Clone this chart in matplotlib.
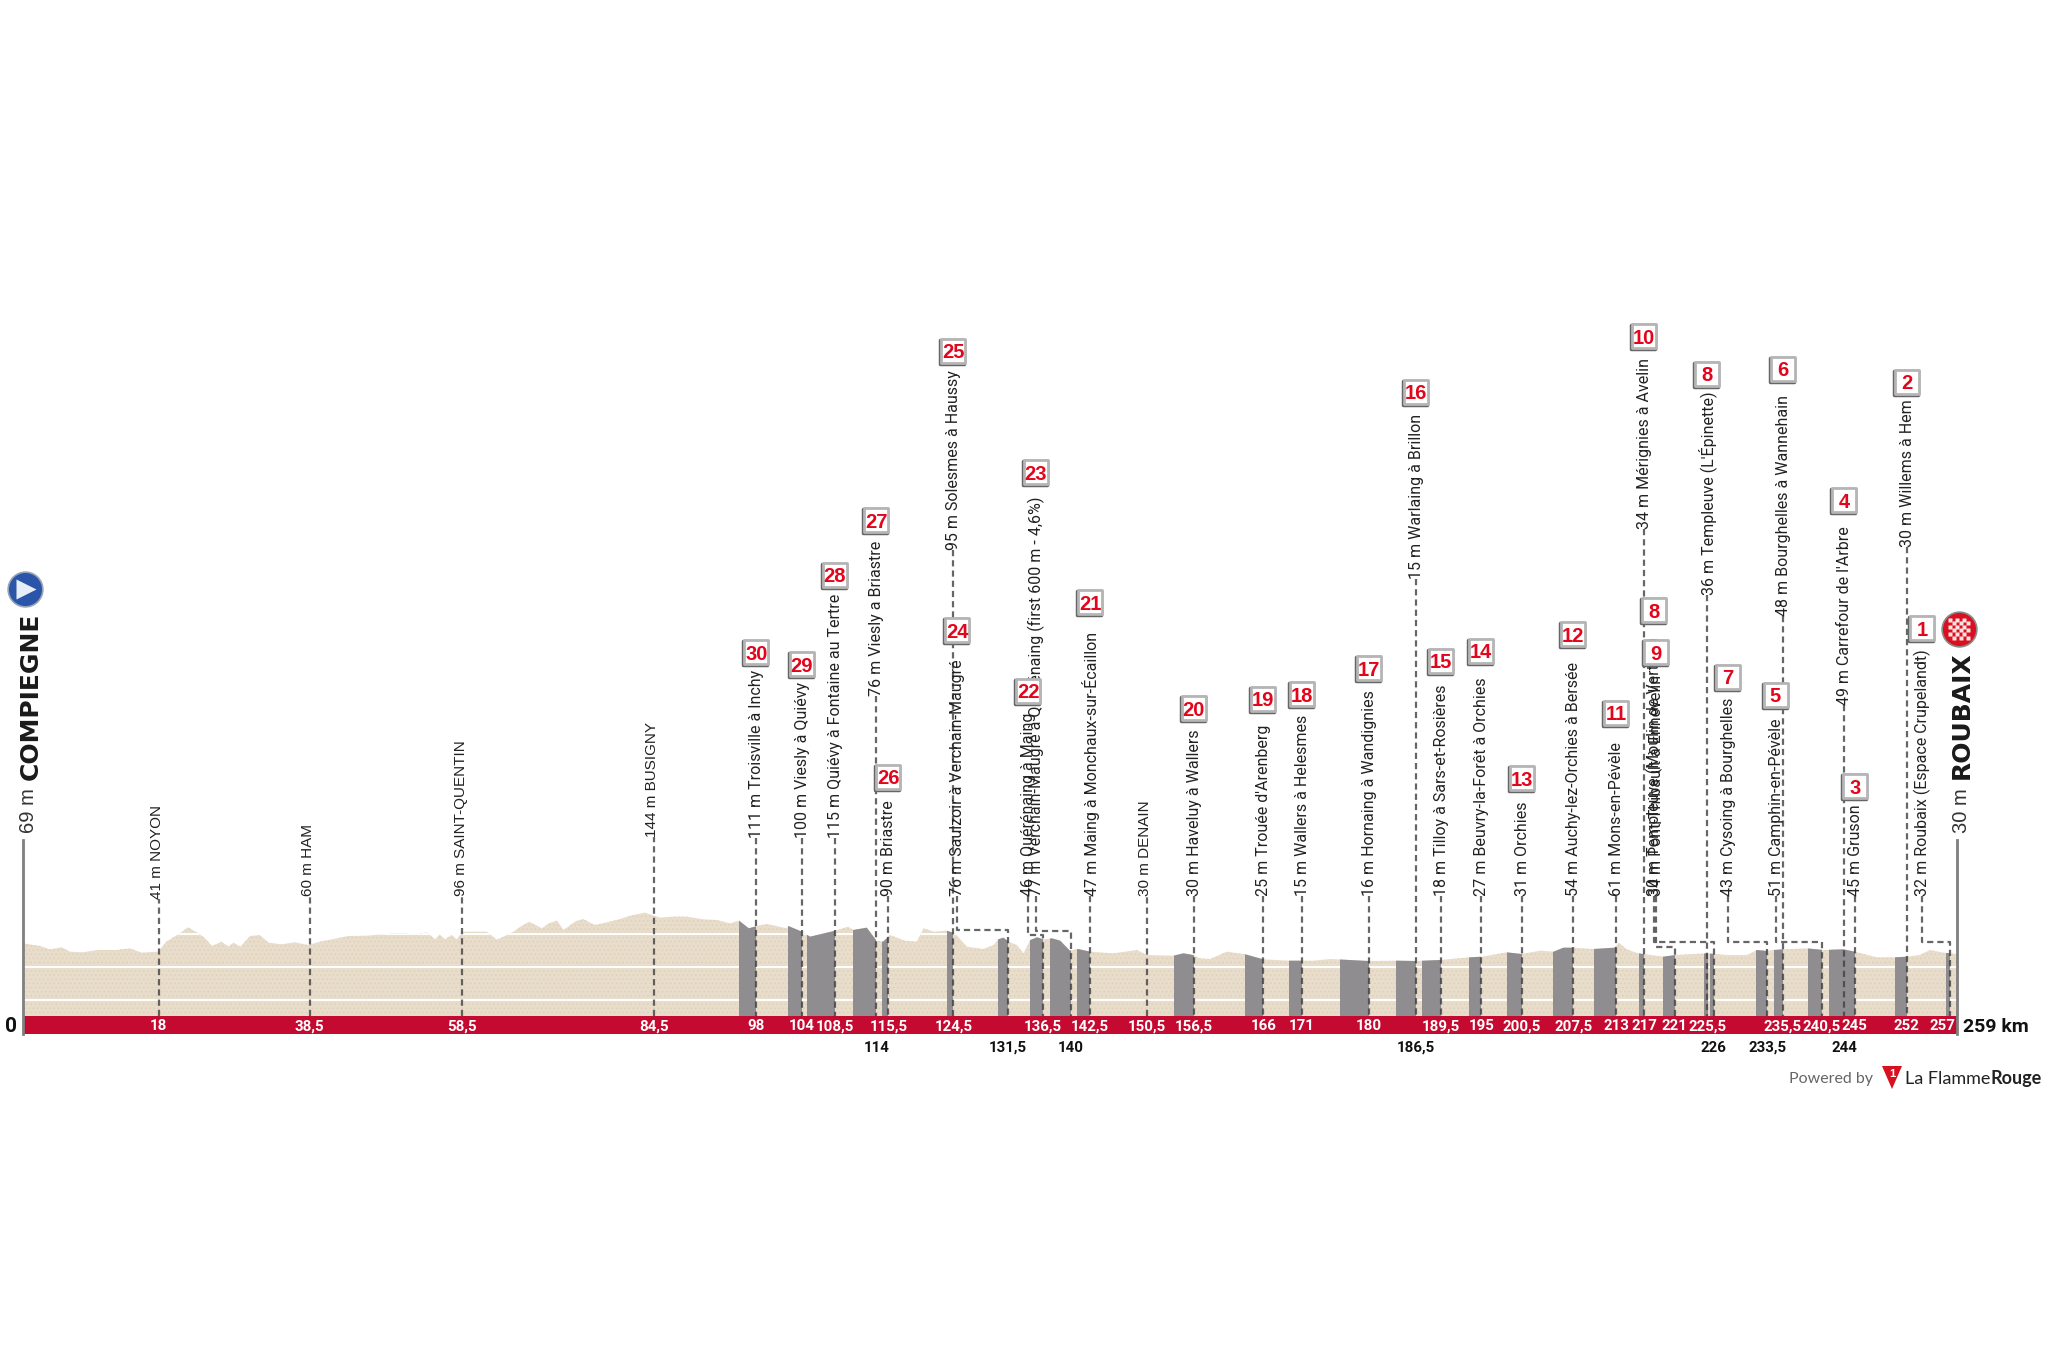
import matplotlib
matplotlib.use("Agg")
import matplotlib.pyplot as plt
from matplotlib.markers import MarkerStyle

# elevation profile, km and metres
profile_km = [0, 2.3, 3.6, 5.2, 6.3, 7.9, 10.1, 12.5, 14.3, 15.9, 18.1, 19.2, 21.0, 22.1, 23.5, 24.4, 25.3, 26.6,
              27.5, 28.2, 29.1, 30.4, 31.7, 32.9, 34.6, 36.4, 38.2, 39.8, 43.6, 46.0, 50.0, 52.7, 54.1, 55.2, 55.8,
              56.5, 57.4, 58.1, 58.8, 62.1, 63.4, 63.9, 65.7, 66.6, 67.8, 69.5, 70.4, 71.5, 72.4, 73.9, 75.0, 76.6,
              79.5, 81.7, 83.3, 85.3, 87.1, 88.9, 91.1, 92.9, 94.7, 95.9, 97.2, 98.3, 99.6, 102.3, 102.5, 104.3,
              105.4, 108.8, 110.5, 111.2, 113.0, 114.3, 115.2, 116.1, 118.1, 119.7, 120.6, 122.0, 123.7, 124.8,
              126.4, 128.6, 130.0, 130.6, 131.3, 132.0, 133.1, 134.0, 134.9, 135.8, 136.7, 137.8, 138.9, 140.2,
              141.3, 142.9, 146.0, 149.2, 150.5, 154.1, 155.4, 156.7, 157.6, 159.0, 161.2, 163.7, 166.1, 169.5,
              172.8, 175.1, 180.2, 184.0, 186.5, 189.8, 193.8, 195.4, 198.7, 200.7, 203.2, 205.0, 206.3, 207.6,
              210.3, 213.2, 213.7, 214.8, 216.3, 219.7, 221.3, 225.5, 228.2, 230.9, 232.2, 233.6, 234.4, 235.8,
              238.9, 241.1, 243.8, 245.3, 248.3, 250.7, 252.3, 254.0, 255.4, 257.2, 259]
profile_m = [71, 63, 53, 59, 46, 44, 51, 51, 56, 43, 46, 76, 101, 119, 101, 86, 63, 76,
             61, 73, 61, 93, 96, 73, 68, 74, 66, 76, 93, 94, 101, 98, 104, 83, 98,
             83, 96, 83, 106, 106, 83, 86, 106, 121, 136, 116, 131, 139, 111, 136, 144, 126,
             141, 156, 163, 148, 151, 151, 143, 141, 131, 139, 116, 123, 129, 116, 123, 106,
             91, 109, 121, 111, 118, 79, 76, 96, 79, 76, 116, 106, 109, 101,
             61, 54, 66, 83, 88, 76, 66, 41, 81, 89, 83, 86, 79, 49,
             54, 46, 41, 51, 36, 34, 41, 36, 26, 24, 46, 38, 23, 19,
             19, 24, 18, 19, 18, 21, 29, 31, 44, 39, 49, 46, 58, 58,
             54, 58, 73, 53, 41, 31, 36, 41, 36, 36, 51, 48, 51, 53,
             56, 51, 53, 46, 29, 29, 31, 36, 51, 43, 39]

# towns along the route
town_names = ["41 m NOYON", "60 m HAM", "96 m SAINT-QUENTIN", "144 m BUSIGNY", "30 m DENAIN"]
town_km = [18.2, 38.4, 58.8, 84.5, 150.5]
town_labels = ["18", "38,5", "58,5", "84,5", "150,5"]

# cobbled sectors, from the start to the finish
sector_numbers = ["30", "29", "28", "27", "26", "25", "24", "23", "22", "21", "20", "19", "18", "17", "16", "15",
                  "14", "13", "12", "11", "10", "9", "8", "8", "7", "6", "5", "4", "3", "2", "1"]
sector_names = ["111 m Troisville à Inchy", "100 m Viesly à Quiévy", "115 m Quiévy à Fontaine au Tertre",
                "76 m Viesly a Briastre", "90 m Briastre", "95 m Solesmes à Haussy",
                "76 m Saulzoir à Verchain-Maugré", "77 m Verchain-Maugré à Quérénaing (first 600 m - 4,6%)",
                "46 m Quérénaing à Maing", "47 m Maing à Monchaux-sur-Écaillon", "30 m Haveluy à Wallers",
                "25 m Trouée d'Arenberg", "15 m Wallers à Helesmes", "16 m Hornaing à Wandignies",
                "15 m Warlaing à Brillon", "18 m Tilloy à Sars-et-Rosières", "27 m Beuvry-la-Forêt à Orchies",
                "31 m Orchies", "54 m Auchy-lez-Orchies à Bersée", "61 m Mons-en-Pévèle", "34 m Mérignies à Avelin",
                "34 m Pont-Thibault à Ennevelin", "30 m Templeuve (Moulin de Vertain)", "36 m Templeuve (L'Épinette)",
                "43 m Cysoing à Bourghelles", "48 m Bourghelles à Wannehain", "51 m Camphin-en-Pévèle",
                "49 m Carrefour de l'Arbre", "45 m Gruson", "30 m Willems à Hem", "32 m Roubaix (Espace Crupelandt)"]
sector_start = [95.9, 102.4, 105.0, 111.2, 115.0, 123.8, 130.6, 137.6, 134.9, 141.2, 154.1, 163.6, 169.5, 176.4,
                183.9, 187.4, 193.7, 198.8, 204.9, 210.4, 216.4, 219.7, 225.9, 225.1, 232.1, 234.5, 239.0, 241.8,
                243.9, 250.7, 257.5]
sector_end = [98.2, 104.3, 108.7, 114.3, 115.9, 124.6, 131.9, 140.3, 136.6, 142.9, 156.8, 166.1, 171.3, 180.2,
              186.5, 189.9, 195.3, 200.7, 207.6, 213.4, 217.1, 221.2, 226.4, 225.6, 233.6, 235.7, 240.9, 243.9,
              245.3, 252.3, 258.1]
sector_labels = ["98", "104", "108,5", "114", "115,5", "124,5", "131,5", "140", "136,5", "142,5", "156,5", "166",
                 "171", "180", "186,5", "189,5", "195", "200,5", "207,5", "213", "217", "221", "226", "225,5",
                 "233,5", "235,5", "240,5", "244", "245", "252", "257"]
labels_under_band = ["114", "131,5", "140", "186,5", "226", "233,5", "244"]

# layout of the poles, in picture pixels
pole_km = [98.2, 104.3, 108.7, 114.3, 115.9, 124.6, 125.1, 135.6, 134.6, 142.9, 156.8, 166.1, 171.3, 180.2,
           186.5, 189.9, 195.3, 200.7, 207.6, 213.4, 217.1, 218.7, 218.4, 225.5, 228.3, 235.7, 234.7, 243.9,
           245.3, 252.3, 254.3]
text_base_px = [838, 838, 838, 696, 896, 550, 896, 896, 896, 896, 896, 896, 896, 896, 579, 896,
                896, 896, 896, 896, 529, 896, 896, 595, 896, 616, 896, 705, 896, 547, 896]
badge_px = [652, 664, 575, 520, 777, 351, 630, 472, 691, 602, 708, 699, 694, 668, 392, 661,
            651, 778, 634, 713, 336, 652, 610, 374, 677, 369, 695, 500, 786, 382, 628]
dogleg_px = {6: 930, 7: 931, 8: 935, 21: 947, 22: 942, 24: 942, 26: 942, 30: 942}
town_base_px = [899, 896, 896, 837, 896]

CONDENSED = ["Roboto"]
SANS = ["Liberation Sans"]
WIDE = ["DejaVu Sans"]
BAND_RED = "#c40a30"
BAR_GREY = "#8f8d90"
SAND = "#e8dccb"
DASH = (0, (2.8, 1.8))


def px_x(px):
    return (px - 23) / 7.467


def px_y(px):
    return (967 - px) * 3.0


def draw_badge(ax, x, y, number):
    shape = MarkerStyle("s", joinstyle="round")
    ax.plot(x - px_x(24), y - 3, marker=shape, ms=17, mfc="#666666", mec="#666666", mew=2.5, zorder=6)
    ax.plot(x, y, marker=shape, ms=17, mfc="white", mec="#b5b5b5", mew=2.0, zorder=6)
    ax.text(x, y, number, color="#e3051b", fontsize=14.5, fontweight="bold", family=SANS,
            ha="center", va="center_baseline", zorder=7)


plt.rcParams["hatch.linewidth"] = 0.6

fig = plt.figure(figsize=(20.48, 13.66), dpi=100)
ax = fig.add_axes([0, 0, 1, 1])
ax.set_xlim(px_x(0), px_x(2048))
ax.set_ylim(px_y(1366), px_y(0))
ax.axis("off")

base = px_y(1016)
band_low = px_y(1034)

# profile, with its white level lines and the dark cobbled sectors cut to its outline
ground = ax.fill([0] + profile_km + [259], [base] + profile_m + [base], color=SAND, lw=0, zorder=1)[0]
ax.fill([0] + profile_km + [259], [base] + profile_m + [base], facecolor="none", edgecolor="#dfd0b9",
        hatch="....", lw=0, zorder=1)
levels = ax.hlines([100, 0, -100], 0, 259, color="white", lw=1.4, zorder=2)
levels.set_clip_path(ground)
for start, end in zip(sector_start, sector_end):
    bar = ax.bar(start, 400, width=end - start, bottom=base, align="edge", color=BAR_GREY, lw=0, zorder=3)[0]
    bar.set_clip_path(ground)

# km band and the two end posts
ax.bar(0, base - band_low, width=259, bottom=band_low, align="edge", color=BAND_RED, lw=0, zorder=4)
ax.plot([0, 0], [band_low, px_y(840)], color="#7f7f7f", lw=2.0, zorder=5)
ax.plot([259, 259], [band_low, px_y(840)], color="#7f7f7f", lw=2.0, zorder=5)

band_y = (base + band_low) / 2
for name, km, label, base_px in zip(town_names, town_km, town_labels, town_base_px):
    ax.plot([km, km], [base, px_y(base_px)], color="#404040", alpha=0.8, lw=1.6, ls=DASH, zorder=5)
    ax.text(km - px_x(24.5), px_y(base_px), name, rotation=90, ha="center", va="bottom", fontsize=11,
            family=SANS, color="#222222", zorder=5)
    ax.text(km, band_y, label, color="white", fontsize=10.8, fontweight="bold", family=CONDENSED,
            ha="center", va="center_baseline", zorder=5)

for i, name in enumerate(sector_names):
    top = px_y(text_base_px[i])
    if i in dogleg_px:
        turn = px_y(dogleg_px[i])
        xs = [pole_km[i], pole_km[i], sector_end[i], sector_end[i]]
        ys = [top, turn, turn, base]
    else:
        xs = [pole_km[i], pole_km[i]]
        ys = [top, base]
    ax.plot(xs, ys, color="#404040", alpha=0.8, lw=1.6, ls=DASH, zorder=5)
    ax.text(pole_km[i] + px_x(23.5), top, name, rotation=90, ha="center", va="bottom", fontsize=11.5,
            family=CONDENSED, color="#222222", zorder=5)
    draw_badge(ax, pole_km[i], px_y(badge_px[i]), sector_numbers[i])

    label = sector_labels[i]
    if label in labels_under_band:
        ax.text(sector_end[i], px_y(1046), label, color="#111111", fontsize=10.8, fontweight="bold", family=CONDENSED,
                ha="center", va="center_baseline", zorder=5)
    else:
        x = px_x(1942) if label == "257" else sector_end[i]
        ax.text(x, band_y, label, color="white", fontsize=10.8, fontweight="bold", family=CONDENSED,
                ha="center", va="center_baseline", zorder=5)

# start and finish names
ax.text(px_x(28), px_y(833), "69 m", rotation=90, ha="center", va="bottom", fontsize=14.5, family=SANS, color="#333333")
ax.text(px_x(31), px_y(780), "COMPIEGNE", rotation=90, ha="center", va="bottom", fontsize=18, fontweight="bold",
        family=WIDE, color="#1a1a1a")
ax.text(px_x(1961), px_y(833), "30 m", rotation=90, ha="center", va="bottom", fontsize=14.5, family=SANS, color="#333333")
ax.text(px_x(1962), px_y(779), "ROUBAIX", rotation=90, ha="center", va="bottom", fontsize=18, fontweight="bold",
        family=WIDE, color="#1a1a1a")
ax.text(px_x(11), band_y, "0", ha="center", va="center_baseline", fontsize=15, fontweight="bold", family=CONDENSED, color="#111111")
ax.text(px_x(1963), band_y, "259 km", ha="left", va="center_baseline", fontsize=14, fontweight="bold", family=CONDENSED, color="#111111")

# start and finish icons
ax.plot(px_x(24.5), px_y(589), marker="o", ms=25, mfc="#2a55a8", mec="#9aa4b8", mew=1.2, zorder=6)
ax.plot(px_x(26), px_y(589), marker=">", ms=14, mfc="#e8eef8", mec="none", zorder=7)
ax.plot(px_x(1959), px_y(628.5), marker="o", ms=25, mfc="#d9101f", mec="#8c8c8c", mew=1.2, zorder=6)
for row in range(6):
    for col in range(6):
        if (row + col) % 2 == 0:
            ax.plot(px_x(1950 + col * 3.6), px_y(619.5 + row * 3.6), marker="s", ms=2.7, mfc="#fbe3e3", mec="none", zorder=7)

# credit line
ax.text(px_x(1789), px_y(1077), "Powered by", ha="left", va="center_baseline", fontsize=11.5, family=["Lato"], color="#666666")
ax.fill([px_x(1882), px_x(1902), px_x(1892)], [px_y(1066), px_y(1066), px_y(1089)], color="#d9101f", lw=0)
ax.text(px_x(1892), px_y(1073), "1", ha="center", va="center_baseline", fontsize=8, fontweight="bold", family=SANS, color="white")
ax.text(px_x(1905), px_y(1077), "La Flamme", ha="left", va="center_baseline", fontsize=13, family=["Lato"], color="#222222")
ax.text(px_x(1990), px_y(1077), "Rouge", ha="left", va="center_baseline", fontsize=13, fontweight="bold", family=["Lato"], color="#222222")

fig.savefig("out.png", dpi=100)
